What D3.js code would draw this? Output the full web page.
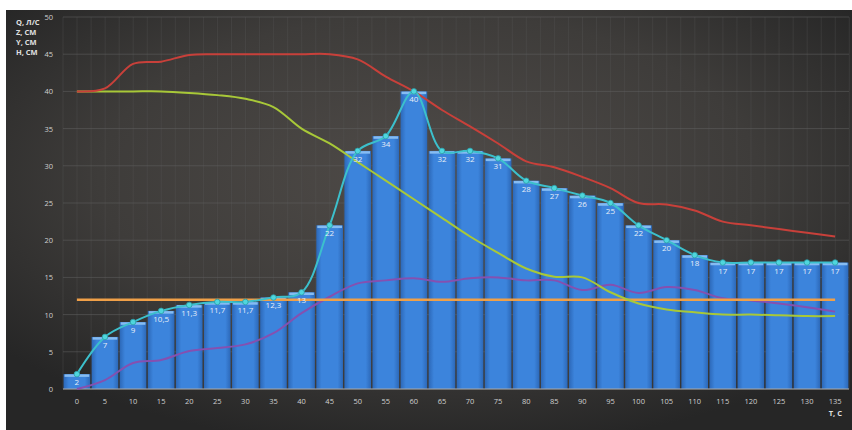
<!DOCTYPE html>
<html>
<head>
<meta charset="utf-8">
<script src="https://cdn.jsdelivr.net/npm/d3@7"></script>
<style>
  body { margin: 0; background: #fff; }
  svg { display: block; }
</style>
</head>
<body>
<svg id="canvas" width="852" height="430"></svg>
<script>
// data
let times = [0, 5, 10, 15, 20, 25, 30, 35, 40, 45, 50, 55, 60, 65, 70, 75, 80, 85, 90, 95, 100, 105, 110, 115, 120, 125, 130, 135];
let qValues = [2, 7, 9, 10.5, 11.3, 11.7, 11.7, 12.3, 13, 22, 32, 34, 40, 32, 32, 31, 28, 27, 26, 25, 22, 20, 18, 17, 17, 17, 17, 17];
let hValues = [40, 40.4, 43.7, 44, 44.9, 45, 45, 45, 45, 45, 44.3, 42, 40, 37.5, 35.3, 33, 30.6, 29.8, 28.5, 27, 25, 24.8, 24, 22.5, 22, 21.5, 21, 20.5];
let yValues = [40, 40, 40, 40, 39.8, 39.5, 39, 37.9, 35, 33, 30.5, 28, 25.5, 23, 20.5, 18.3, 16.2, 15.1, 15, 13, 11.5, 10.7, 10.3, 10, 10, 9.9, 9.8, 9.8];
let zValues = [0, 1.2, 3.5, 3.9, 5.1, 5.5, 6, 7.5, 10.2, 12.4, 14.2, 14.6, 14.9, 14.4, 14.9, 15, 14.6, 14.6, 13.3, 14, 12.9, 13.7, 13.3, 12.2, 11.9, 11.5, 11, 10.4];
let levelValue = 12;
let yTicks = [0, 5, 10, 15, 20, 25, 30, 35, 40, 45, 50];
let axisTitles = ["Q, Л/С", "Z, СМ", "Y, СМ", "H, СМ"];
let xTitle = "Т, С";

let width = 852;
let height = 430;
let plotLeft = 63, plotRight = 849, plotTop = 17, plotBottom = 389;

let canvas = d3.select("#canvas");
let defs = canvas.append("defs");

let bg = defs.append("radialGradient").attr("id", "bg")
  .attr("cx", "50%").attr("cy", "40%").attr("r", "65%");
bg.append("stop").attr("offset", "0%").attr("stop-color", "#4f4b48");
bg.append("stop").attr("offset", "60%").attr("stop-color", "#3e3c3a");
bg.append("stop").attr("offset", "100%").attr("stop-color", "#262626");

let barGrad = defs.append("linearGradient").attr("id", "barGrad")
  .attr("x1", 0).attr("x2", 1).attr("y1", 0).attr("y2", 0);
barGrad.append("stop").attr("offset", "0%").attr("stop-color", "#2c68b8");
barGrad.append("stop").attr("offset", "20%").attr("stop-color", "#3c84dc");
barGrad.append("stop").attr("offset", "80%").attr("stop-color", "#3c84dc");
barGrad.append("stop").attr("offset", "100%").attr("stop-color", "#2c68b8");

canvas.append("rect")
  .attr("x", 6).attr("y", 10)
  .attr("width", width - 6).attr("height", height - 10)
  .attr("fill", "url(#bg)");

let x = d3.scaleBand()
  .domain(times)
  .range([plotLeft, plotRight])
  .paddingInner(0.05)
  .paddingOuter(0.02);

let y = d3.scaleLinear().domain([0, 50]).range([plotBottom, plotTop]);

let cx = (t) => x(t) + x.bandwidth() / 2;

// grid
let step = x.step();
let gridX = d3.range(plotLeft, plotRight + 1, step / 2);
canvas.append("g")
  .selectAll("line")
  .data(gridX)
  .enter()
  .append("line")
  .attr("x1", (d) => d).attr("x2", (d) => d)
  .attr("y1", plotTop).attr("y2", plotBottom)
  .attr("stroke", "#5a5a5a")
  .attr("stroke-opacity", 0.45)
  .attr("stroke-width", 0.7);

canvas.append("g")
  .selectAll("line")
  .data(yTicks)
  .enter()
  .append("line")
  .attr("x1", plotLeft).attr("x2", plotRight)
  .attr("y1", (d) => y(d)).attr("y2", (d) => y(d))
  .attr("stroke", "#606060")
  .attr("stroke-opacity", 0.7)
  .attr("stroke-width", 0.8);

// bars
let bars = canvas.append("g");
bars.selectAll("rect")
  .data(qValues)
  .enter()
  .append("rect")
  .attr("x", (d, i) => x(times[i]))
  .attr("y", (d) => y(d))
  .attr("width", x.bandwidth())
  .attr("height", (d) => plotBottom - y(d))
  .attr("fill", "url(#barGrad)");

bars.selectAll("line")
  .data(qValues)
  .enter()
  .append("line")
  .attr("x1", (d, i) => x(times[i]) + 1)
  .attr("x2", (d, i) => x(times[i]) + x.bandwidth() - 1)
  .attr("y1", (d) => y(d) + 1.5)
  .attr("y2", (d) => y(d) + 1.5)
  .attr("stroke", "#86bcf2")
  .attr("stroke-width", 2.5);

// axis line
canvas.append("line")
  .attr("x1", plotLeft).attr("x2", plotRight)
  .attr("y1", plotBottom).attr("y2", plotBottom)
  .attr("stroke", "#a8a8a8")
  .attr("stroke-width", 1);

// lines
let makeLine = (vals) => d3.line()
  .x((d, i) => cx(times[i]))
  .y((d) => y(d))
  .curve(d3.curveCatmullRom.alpha(0.5))(vals);

canvas.append("path")
  .attr("d", makeLine(zValues))
  .attr("fill", "none")
  .attr("stroke", "#8550b0")
  .attr("stroke-width", 2);

canvas.append("line")
  .attr("x1", cx(times[0])).attr("x2", cx(times[times.length - 1]))
  .attr("y1", y(levelValue)).attr("y2", y(levelValue))
  .attr("stroke", "#f0a048")
  .attr("stroke-width", 2.5);

canvas.append("path")
  .attr("d", makeLine(yValues))
  .attr("fill", "none")
  .attr("stroke", "#a8c838")
  .attr("stroke-width", 2);

canvas.append("path")
  .attr("d", makeLine(hValues))
  .attr("fill", "none")
  .attr("stroke", "#c8403a")
  .attr("stroke-width", 2);

canvas.append("path")
  .attr("d", makeLine(qValues))
  .attr("fill", "none")
  .attr("stroke", "#3cc0cc")
  .attr("stroke-width", 2);

canvas.append("g")
  .selectAll("circle")
  .data(qValues)
  .enter()
  .append("circle")
  .attr("cx", (d, i) => cx(times[i]))
  .attr("cy", (d) => y(d))
  .attr("r", 2.8)
  .attr("fill", "#4fd6dc")
  .attr("stroke", "#2a9aa6")
  .attr("stroke-width", 0.8);

// bar labels
canvas.append("g")
  .selectAll("text")
  .data(qValues)
  .enter()
  .append("text")
  .attr("x", (d, i) => cx(times[i]))
  .attr("y", (d) => y(d) + 11)
  .attr("text-anchor", "middle")
  .attr("font-family", "Open Sans, sans-serif")
  .attr("font-size", 8)
  .attr("fill", "#e6eef8")
  .text((d) => String(d).replace(".", ","));

// y tick labels
canvas.append("g")
  .selectAll("text")
  .data(yTicks)
  .enter()
  .append("text")
  .attr("x", 53)
  .attr("y", (d) => y(d) + 3)
  .attr("text-anchor", "end")
  .attr("font-family", "Open Sans, sans-serif")
  .attr("font-size", 7.5)
  .attr("fill", "#d0d0d0")
  .text((d) => d);

// x tick labels
canvas.append("g")
  .selectAll("text")
  .data(times)
  .enter()
  .append("text")
  .attr("x", (d) => cx(d))
  .attr("y", 404)
  .attr("text-anchor", "middle")
  .attr("font-family", "Open Sans, sans-serif")
  .attr("font-size", 7.5)
  .attr("fill", "#d0d0d0")
  .text((d) => d);

// titles
canvas.append("g")
  .selectAll("text")
  .data(axisTitles)
  .enter()
  .append("text")
  .attr("x", 16)
  .attr("y", (d, i) => 25 + i * 10)
  .attr("font-family", "Open Sans, sans-serif")
  .attr("font-size", 7.5)
  .attr("font-weight", "bold")
  .attr("fill", "#e0e0e0")
  .text((d) => d);

canvas.append("text")
  .attr("x", 842)
  .attr("y", 416)
  .attr("text-anchor", "end")
  .attr("font-family", "Open Sans, sans-serif")
  .attr("font-size", 7.5)
  .attr("font-weight", "bold")
  .attr("fill", "#e0e0e0")
  .text(xTitle);
</script>
</body>
</html>
